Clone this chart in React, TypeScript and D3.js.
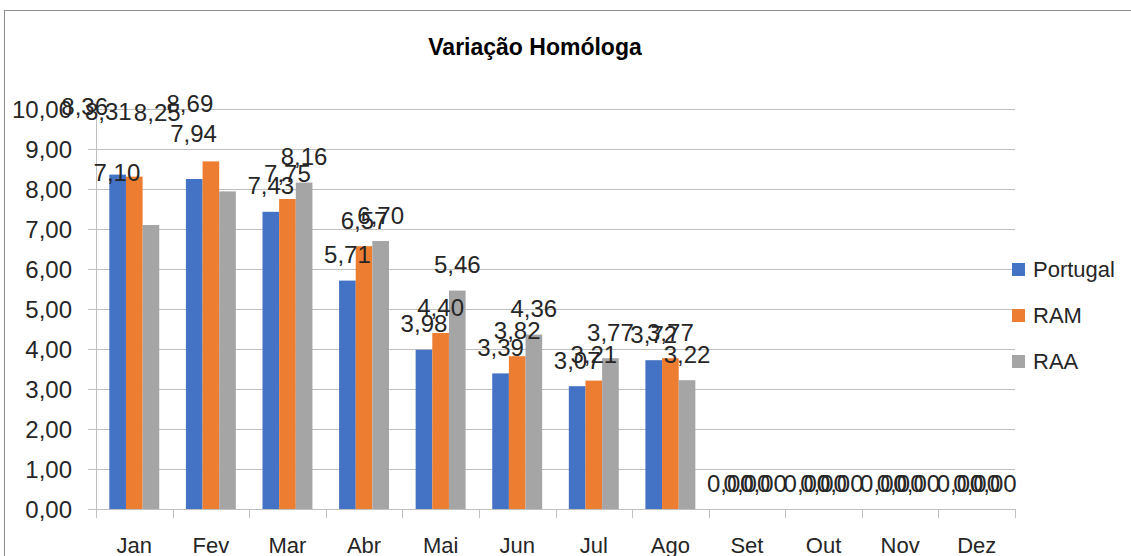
import React from 'react';
import * as d3 from 'd3';

const months = ['Jan', 'Fev', 'Mar', 'Abr', 'Mai', 'Jun', 'Jul', 'Ago', 'Set', 'Out', 'Nov', 'Dez'];
const seriesNames = ['Portugal', 'RAM', 'RAA'];
const portugal = [8.36, 8.25, 7.43, 5.71, 3.98, 3.39, 3.07, 3.72, 0, 0, 0, 0];
const ram = [8.31, 8.69, 7.75, 6.57, 4.40, 3.82, 3.21, 3.77, 0, 0, 0, 0];
const raa = [7.10, 7.94, 8.16, 6.70, 5.46, 4.36, 3.77, 3.22, 0, 0, 0, 0];
const yTicks = [0, 1, 2, 3, 4, 5, 6, 7, 8, 9, 10];
const colors = ['#4472C4', '#ED7D31', '#A5A5A5'];

// manual nudges of a few data labels (as in the original chart), in px
const labelNudges: Record<string, [number, number]> = {
  'Jan-0': [-33, -42],
  'Jan-1': [-26, -39],
  'Jan-2': [-34, -27],
  'Fev-0': [-37, -41],
  'Fev-1': [-21, -32],
  'Fev-2': [-34, -32],
};

const W = 1131;
const H = 556;
const plotLeft = 96;
const plotRight = 1015;
const plotTop = 109;
const plotBottom = 509;
const FONT = '"Liberation Sans", Arial, sans-serif';

const fmt = (v: number) => d3.format('.2f')(v).replace('.', ',');

export default function App() {
  const values = [portugal, ram, raa];
  const x = d3.scaleBand<string>().domain(months).range([plotLeft, plotRight]).paddingInner(0).paddingOuter(0);
  const bw = x.bandwidth();
  const groupW = (bw * 3) / (3 + 1.6);
  const xs = d3
    .scaleBand<string>()
    .domain(seriesNames)
    .range([(bw - groupW) / 2, (bw + groupW) / 2])
    .padding(0);
  const y = d3.scaleLinear().domain([0, 10]).range([plotBottom, plotTop]);
  const boundaries = [...months.map((m) => x(m) as number), plotRight];

  return (
    <svg width={W} height={H} style={{ position: 'absolute', left: 0, top: 0, background: '#fff' }} fontFamily={FONT}>
      <rect x={0} y={0} width={W} height={H} fill="#fff" />
      <rect x={4.5} y={10.5} width={W + 20} height={H + 20} fill="none" stroke="#8c8c8c" strokeWidth={1} />
      <text x={535} y={55} textAnchor="middle" fontSize={23} fontWeight="bold" fill="#000">
        Variação Homóloga
      </text>

      {/* gridlines */}
      {yTicks.map((t) => (
        <line key={'g' + t} x1={plotLeft - 8} x2={plotRight} y1={Math.round(y(t)) + 0.5} y2={Math.round(y(t)) + 0.5} stroke="#bfbfbf" strokeWidth={1} />
      ))}
      {/* y axis */}
      <line x1={plotLeft + 0.5} x2={plotLeft + 0.5} y1={plotTop} y2={plotBottom} stroke="#bfbfbf" />
      {yTicks.map((t) => (
        <text key={'yt' + t} x={72} y={y(t) + 8.5} textAnchor="end" fontSize={24} fill="#262626">
          {fmt(t)}
        </text>
      ))}

      {/* bars */}
      {months.map((m, i) =>
        seriesNames.map((s, si) => {
          const v = values[si][i];
          const bx = (x(m) as number) + (xs(s) as number);
          return <rect key={m + s} x={bx} y={y(v)} width={xs.bandwidth()} height={plotBottom - y(v)} fill={colors[si]} />;
        })
      )}

      {/* x axis */}
      <line x1={plotLeft} x2={plotRight} y1={plotBottom + 0.5} y2={plotBottom + 0.5} stroke="#bfbfbf" />
      {boundaries.map((b, i) => (
        <line key={'xt' + i} x1={Math.round(b) + 0.5} x2={Math.round(b) + 0.5} y1={plotBottom} y2={plotBottom + 9} stroke="#bfbfbf" />
      ))}
      {months.map((m) => (
        <text key={'xl' + m} x={(x(m) as number) + bw / 2} y={553} textAnchor="middle" fontSize={22} fill="#262626">
          {m}
        </text>
      ))}

      {/* data labels */}
      {months.map((m, i) =>
        seriesNames.map((s, si) => {
          const v = values[si][i];
          const cx = (x(m) as number) + (xs(s) as number) + xs.bandwidth() / 2;
          const nud = labelNudges[m + '-' + si] || [0, 0];
          const cy = y(v) - 26 + nud[1];
          return (
            <text key={'dl' + m + s} x={cx + nud[0]} y={cy + 8.5} textAnchor="middle" fontSize={24} fill="#262626">
              {fmt(v)}
            </text>
          );
        })
      )}

      {/* legend */}
      {seriesNames.map((s, si) => (
        <g key={'lg' + s} transform={`translate(1012, ${269.5 + si * 46})`}>
          <rect x={0} y={-6.5} width={13} height={13} fill={colors[si]} />
          <text x={21} y={7.5} fontSize={22} fill="#262626">
            {s}
          </text>
        </g>
      ))}
    </svg>
  );
}
